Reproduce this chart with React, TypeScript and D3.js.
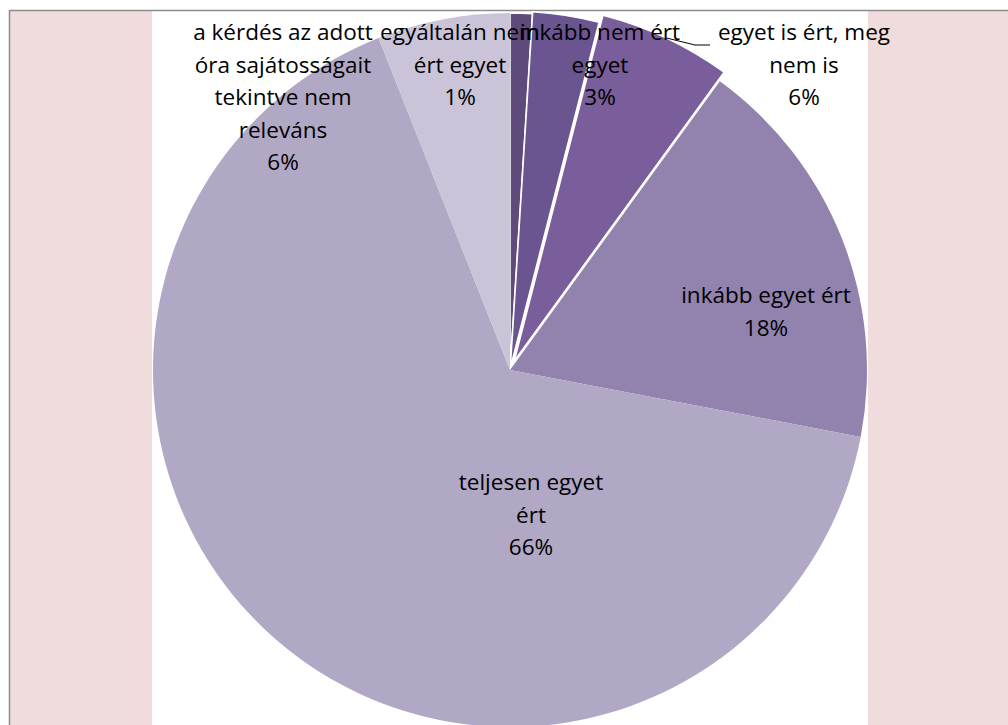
import { useRef, useEffect } from "react";
import * as d3 from "d3";

// slice categories, clockwise from 12 o'clock
const categories = [
  "egyáltalán nem ért egyet",
  "inkább nem ért egyet",
  "egyet is ért, meg nem is",
  "inkább egyet ért",
  "teljesen egyet ért",
  "a kérdés az adott óra sajátosságait tekintve nem releváns",
];
// share of answers in percent
const values = [1, 3, 6, 18, 66, 6];
// how the labels are wrapped in the chart
const labelLines = [
  ["egyáltalán nem", "ért egyet"],
  ["inkább nem ért", "egyet"],
  ["egyet is ért, meg", "nem is"],
  ["inkább egyet ért"],
  ["teljesen egyet", "ért"],
  ["a kérdés az adott", "óra sajátosságait", "tekintve nem", "releváns"],
];

const colors = ["#5e4a7b", "#6a5590", "#7a5e9b", "#9282ae", "#b1a8c5", "#cbc4d8"];
const explode = [0, 2, 10, 0, 0, 0];
// label anchor: centre x, first baseline y (manual placement, like the original)
const labelPos: [number, number][] = [
  [460, 40],
  [600, 40],
  [804, 40],
  [766, 303],
  [531, 490],
  [283, 40],
];

const W = 1008;
const H = 725;
const cx = 510;
const cy = 370;
const R = 357;
const lineH = 32.5;

type Slice = { name: string; value: number; i: number };

function draw(svgEl: SVGSVGElement | null) {
  const svg = d3.select(svgEl);
  svg.selectAll("*").remove();

  // frame + pink side bands
  svg.append("rect").attr("x", 10).attr("y", 11).attr("width", 142).attr("height", H).attr("fill", "#f0dcdc");
  svg.append("rect").attr("x", 868).attr("y", 11).attr("width", W - 868).attr("height", H).attr("fill", "#f0dcdc");
  svg.append("line").attr("x1", 9).attr("x2", W).attr("y1", 10.5).attr("y2", 10.5).attr("stroke", "#8c8c8c").attr("stroke-width", 1.5);
  svg.append("line").attr("x1", 9.5).attr("x2", 9.5).attr("y1", 10).attr("y2", H).attr("stroke", "#8c8c8c").attr("stroke-width", 1.5);

  const data: Slice[] = categories.map((name, i) => ({ name, value: values[i], i }));
  const pie = d3
    .pie<Slice>()
    .sort(null)
    .value((d) => d.value)
    .startAngle(0)
    .endAngle(2 * Math.PI);
  const arcs = pie(data);
  const arc = d3.arc<d3.PieArcDatum<Slice>>().innerRadius(0).outerRadius(R);

  const off = (a: d3.PieArcDatum<Slice>) => {
    const mid = (a.startAngle + a.endAngle) / 2;
    const e = explode[a.data.i];
    return [e * Math.sin(mid), -e * Math.cos(mid)];
  };

  const g = svg.append("g").attr("transform", `translate(${cx},${cy})`);
  g.selectAll("path")
    .data(arcs)
    .join("path")
    .attr("d", arc)
    .attr("transform", (d) => {
      const [dx, dy] = off(d);
      return `translate(${dx},${dy})`;
    })
    .attr("fill", (d) => colors[d.data.i])
    .attr("stroke", (d) => (d.data.i < 3 ? "#fff" : "none"))
    .attr("stroke-width", 1.5)
    .attr("stroke-linejoin", "round");

  // leader line for the exploded 6% slice
  const a2 = arcs[2];
  const mid2 = (a2.startAngle + a2.endAngle) / 2;
  const [ox, oy] = off(a2);
  const sx = cx + ox + R * Math.sin(mid2);
  const sy = cy + oy - R * Math.cos(mid2);
  const endX = labelPos[2][0] - 94;
  const endY = labelPos[2][1] + 5;
  svg
    .append("polyline")
    .attr("points", `${sx},${sy} ${endX - 15},${endY} ${endX},${endY}`)
    .attr("fill", "none")
    .attr("stroke", "#000")
    .attr("stroke-width", 1);

  // labels
  arcs.forEach((a) => {
    const i = a.data.i;
    const [x, y] = labelPos[i];
    const lines = [...labelLines[i], `${d3.format(".0f")(a.data.value)}%`];
    const t = svg
      .append("text")
      .attr("x", x)
      .attr("y", y)
      .attr("text-anchor", "middle")
      .attr("font-family", "'Open Sans', sans-serif")
      .attr("font-size", 22.5)
      .attr("fill", "#000");
    lines.forEach((l, k) => {
      t.append("tspan").attr("x", x).attr("y", y + k * lineH).text(l);
    });
  });
}

export default function App() {
  const ref = useRef<SVGSVGElement>(null);
  useEffect(() => {
    draw(ref.current);
  }, []);
  return (
    <svg
      ref={ref}
      width={W}
      height={H}
      style={{ position: "absolute", left: 0, top: 0, background: "#fff" }}
    />
  );
}
